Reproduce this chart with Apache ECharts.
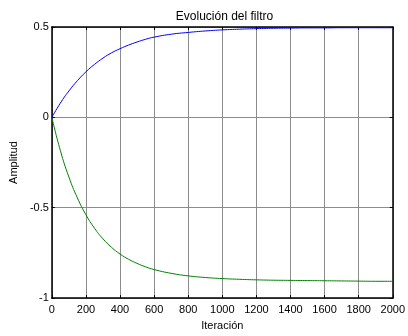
<!DOCTYPE html>
<html>
<head>
<meta charset="utf-8">
<script src="https://cdn.jsdelivr.net/npm/echarts@6/dist/echarts.min.js"></script>
<style>
html,body{margin:0;padding:0;background:#fff;}
#c{width:408px;height:336px;}
</style>
</head>
<body>
<div id="c"></div>
<script>
const iterations = [0, 50, 100, 150, 200, 250, 300, 350, 400, 450, 500, 550, 600, 700, 800, 900, 1000, 1100, 1200, 1300, 1400, 1500, 1600, 1700, 1800, 1900, 2000];
const blueValues = [0, 0.079, 0.146, 0.203, 0.252, 0.293, 0.328, 0.357, 0.380, 0.400, 0.417, 0.432, 0.444, 0.460, 0.470, 0.478, 0.484, 0.488, 0.491, 0.493, 0.494, 0.495, 0.495, 0.496, 0.496, 0.496, 0.496];
const greenValues = [0, -0.184, -0.330, -0.446, -0.539, -0.613, -0.672, -0.719, -0.756, -0.785, -0.808, -0.827, -0.842, -0.863, -0.877, -0.886, -0.892, -0.896, -0.899, -0.901, -0.902, -0.903, -0.904, -0.905, -0.906, -0.907, -0.907];
const xTicks = ['0','200','400','600','800','1000','1200','1400','1600','1800','2000'];
const yTicks = {'-1':'-1','-0.5':'-0.5','0':'0','0.5':'0.5'};

const chart = echarts.init(document.getElementById('c'));
const font = 'Liberation Sans, Arial, sans-serif';
const blueData = iterations.map((x, i) => [x, blueValues[i]]);
const greenData = iterations.map((x, i) => [x, greenValues[i]]);

chart.setOption({
  animation: false,
  backgroundColor: '#fff',
  title: {
    text: 'Evolución del filtro',
    left: 219.5, top: 6, textAlign: 'center',
    textStyle: {fontFamily: font, fontSize: 12, fontWeight: 'normal', color: '#000'}
  },
  grid: {left: 46, right: 15, top: 27, bottom: 37, containLabel: false},
  xAxis: [{
    type: 'value', min: 0, max: 2000, interval: 200,
    name: 'Iteración', nameLocation: 'middle', nameGap: 21,
    nameTextStyle: {fontFamily: font, fontSize: 11, color: '#000'},
    axisLine: {show: true, onZero: false, lineStyle: {color: '#000', width: 1.5}},
    axisTick: {show: true, inside: true, length: 3, lineStyle: {color: '#000'}},
    axisLabel: {fontFamily: font, fontSize: 11, color: '#000', margin: 6,
      formatter: v => xTicks[Math.round(v / 200)]},
    splitLine: {show: true, lineStyle: {color: '#8c8c8c', width: 1}}
  }, {
    type: 'value', min: 0, max: 2000, interval: 200, position: 'top',
    axisLine: {show: true, onZero: false, lineStyle: {color: '#000', width: 1.5}},
    axisTick: {show: true, inside: true, length: 3, lineStyle: {color: '#000'}},
    axisLabel: {show: false}, splitLine: {show: false}
  }],
  yAxis: [{
    type: 'value', min: -1, max: 0.5, interval: 0.5,
    name: 'Amplitud', nameLocation: 'middle', nameGap: 28, nameRotate: 90,
    nameTextStyle: {fontFamily: font, fontSize: 11, color: '#000'},
    axisLine: {show: true, onZero: false, lineStyle: {color: '#000', width: 1.5}},
    axisTick: {show: true, inside: true, length: 3, lineStyle: {color: '#000'}},
    axisLabel: {fontFamily: font, fontSize: 11, color: '#000', margin: 3,
      formatter: v => yTicks[String(v)]},
    splitLine: {show: true, lineStyle: {color: '#8c8c8c', width: 1}}
  }, {
    type: 'value', min: -1, max: 0.5, interval: 0.5, position: 'right',
    axisLine: {show: true, onZero: false, lineStyle: {color: '#000', width: 1.5}},
    axisTick: {show: true, inside: true, length: 3, lineStyle: {color: '#000'}},
    axisLabel: {show: false}, splitLine: {show: false}
  }],
  series: [{
    type: 'line', data: blueData, showSymbol: false, smooth: true,
    lineStyle: {color: '#0000ff', width: 1}, itemStyle: {color: '#0000ff'}
  }, {
    type: 'line', data: greenData, showSymbol: false, smooth: true,
    lineStyle: {color: '#008000', width: 1}, itemStyle: {color: '#008000'}
  }]
});
</script>
</body>
</html>
